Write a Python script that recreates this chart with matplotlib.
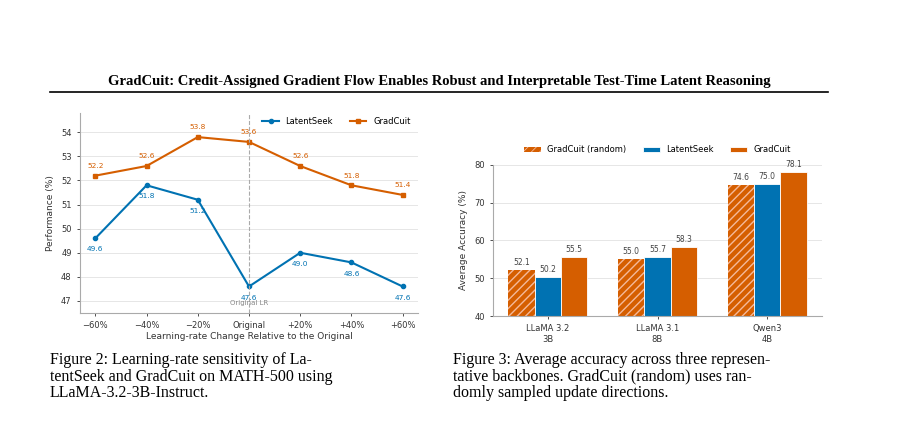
import matplotlib
matplotlib.use("Agg")
import matplotlib.pyplot as plt
import numpy as np

lr_labels = ["\u221260%", "\u221240%", "\u221220%", "Original", "+20%", "+40%", "+60%"]
latentseek = [49.6, 51.8, 51.2, 47.6, 49.0, 48.6, 47.6]
gradcuit = [52.2, 52.6, 53.8, 53.6, 52.6, 51.8, 51.4]

models = ["LLaMA 3.2\n3B", "LLaMA 3.1\n8B", "Qwen3\n4B"]
acc_random = [52.1, 55.0, 74.6]
acc_latent = [50.2, 55.7, 75.0]
acc_grad = [55.5, 58.3, 78.1]

BLUE = "#0072B2"
ORANGE = "#D55E00"
plt.rcParams['font.family'] = ['DejaVu Sans']
fig = plt.figure(figsize=(9.02, 4.38), dpi=100)

# Header
fig.text(0.487, 1 - 82/438, "GradCuit: Credit-Assigned Gradient Flow Enables Robust and Interpretable Test-Time Latent Reasoning",
         ha="center", va="center", family="Liberation Serif", fontweight="bold", fontsize=10.5)
fig.add_artist(plt.Line2D([50/902, 828/902], [1-92/438]*2, color="black", lw=1.2))

def style(ax):
    for s in ["top", "right"]:
        ax.spines[s].set_visible(False)
    for s in ["left", "bottom"]:
        ax.spines[s].set_color("#aaaaaa")
    ax.tick_params(labelsize=6, colors="#333333", length=2.5, width=0.6)
    ax.yaxis.grid(True, color="#e6e6e6", lw=0.7)
    ax.set_axisbelow(True)

# Left chart
ax1 = fig.add_axes([80/902, 1-313/438, 338/902, 200/438])
style(ax1)
x = np.arange(len(lr_labels))
ax1.plot(x, latentseek, color=BLUE, marker="o", ms=3, lw=1.5, label="LatentSeek")
ax1.plot(x, gradcuit, color=ORANGE, marker="s", ms=3, lw=1.5, label="GradCuit")
ax1.axvline(3, color="#aaaaaa", ls="--", lw=0.8)
for xi, v in zip(x, latentseek):
    ax1.annotate(f"{v:.1f}", (xi, v), xytext=(0, -8), textcoords="offset points", ha="center", va="center", fontsize=5.3, color=BLUE)
for xi, v in zip(x, gradcuit):
    ax1.annotate(f"{v:.1f}", (xi, v), xytext=(0, 7), textcoords="offset points", ha="center", va="center", fontsize=5.3, color=ORANGE)
ax1.text(3, 46.9, "Original LR", ha="center", va="center", fontsize=5, color="#888888")
ax1.set_xticks(x)
ax1.set_xticklabels(lr_labels)
ax1.set_ylim(46.5, 54.8)
ax1.set_xlim(-0.3, 6.3)
ax1.set_yticks(range(47, 55))
ax1.set_ylabel("Performance (%)", fontsize=6.5, color="#333333")
ax1.set_xlabel("Learning-rate Change Relative to the Original", fontsize=6.5, color="#333333", labelpad=1)
ax1.legend(loc="upper right", fontsize=6, frameon=False, ncol=2, bbox_to_anchor=(1.0, 1.02), handlelength=2)

# Right chart
ax2 = fig.add_axes([493/902, 1-316/438, 329/902, 151/438])
style(ax2)
xb = np.arange(len(models))
w = 0.24
b1 = ax2.bar(xb - w, acc_random, w, color=ORANGE, edgecolor="#f4b99a", hatch="////", lw=0, label="GradCuit (random)")
b2 = ax2.bar(xb, acc_latent, w, color=BLUE, edgecolor="white", lw=0.6, label="LatentSeek")
b3 = ax2.bar(xb + w, acc_grad, w, color=ORANGE, edgecolor="white", lw=0.6, label="GradCuit")
plt.rcParams['hatch.linewidth'] = 0.6
for bars, vals in [(b1, acc_random), (b2, acc_latent), (b3, acc_grad)]:
    for r, v in zip(bars, vals):
        ax2.text(r.get_x() + r.get_width()/2, v + 0.8, f"{v:.1f}", ha="center", va="bottom", fontsize=5.5, color="#444444")
ax2.set_ylim(40, 80)
ax2.set_yticks([40, 50, 60, 70, 80])
ax2.set_xticks(xb)
ax2.set_xticklabels(models)
ax2.set_xlim(-0.5, 2.5)
ax2.set_ylabel("Average Accuracy (%)", fontsize=6.5, color="#333333")
ax2.legend(loc="lower center", bbox_to_anchor=(0.5, 1.02), ncol=3, fontsize=6, frameon=False, handlelength=2)

# Captions
cap_kw = dict(family="Liberation Serif", fontsize=11.5, va="top", ha="left", linespacing=1.05)
fig.text(50/902, 1-352/438, "Figure 2: Learning-rate sensitivity of La-\ntentSeek and GradCuit on MATH-500 using\nLLaMA-3.2-3B-Instruct.", **cap_kw)
fig.text(453/902, 1-352/438, "Figure 3: Average accuracy across three represen-\ntative backbones. GradCuit (random) uses ran-\ndomly sampled update directions.", **cap_kw)

fig.savefig("out.png", dpi=100)
